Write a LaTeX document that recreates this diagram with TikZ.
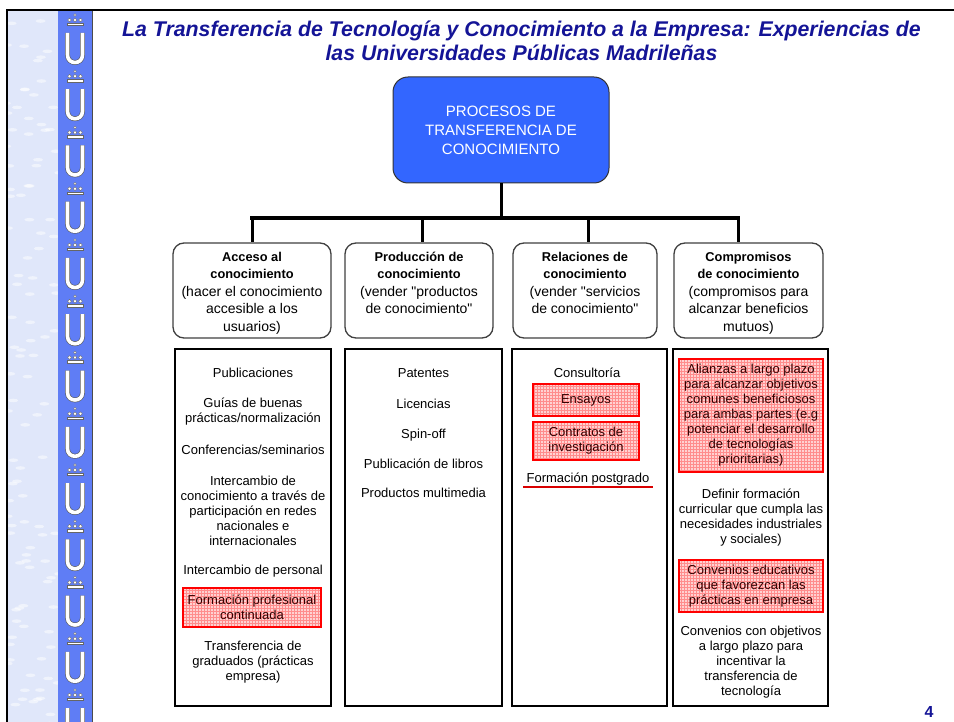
\documentclass[tikz,border=0pt]{standalone}
\usepackage{fontspec}
\setmainfont{Liberation Sans}[Ligatures=TeXOff]
\usetikzlibrary{positioning}
\usetikzlibrary{patterns}
\definecolor{navytitle}{RGB}{20,20,150}
\definecolor{procblue}{RGB}{51,102,255}
\definecolor{stripblue}{RGB}{95,125,245}
\definecolor{marble}{RGB}{224,231,250}
\newcommand{\hdbold}[1]{{\fontsize{12.8}{17.5}\selectfont\bfseries #1}}
\tikzset{
    titletext/.style = {align=center, text=navytitle, font=\fontsize{21.3}{24}\selectfont\bfseries\itshape},
    procnode/.style = {rounded corners=15pt, draw=black!80, line width=1pt, fill=procblue, text=white, align=center, minimum width=216pt, minimum height=106pt, font=\fontsize{15}{19}\selectfont},
    headnode/.style = {rounded corners=11pt, draw=black!75, line width=1.3pt, fill=white, minimum height=95pt},
    headtext/.style = {align=center, inner sep=0pt, font=\fontsize{14}{17.5}\selectfont},
    listbox/.style = {draw=black, line width=1.2pt, minimum height=357pt},
    listitem/.style = {align=center, inner sep=0pt, font=\fontsize{13}{15}\selectfont},
    listred/.style = {listitem, draw=red, line width=1.2pt, preaction={fill=red!18}, pattern=grid, pattern color=red!45, text=black!80!red},
    edgen/.style = {-, line width=3pt, black},
    edgebar/.style = {-, line width=3.5pt, black, line cap=rect},
    redline/.style = {-, line width=1.8pt, red!85!black},
    logou/.style = {double=white, double distance=3.6pt, draw=black!65, line width=0.6pt},
    logodot/.style = {fill=white, draw=black!60, line width=0.4pt}
}

\begin{document}
\begin{tikzpicture}[x=1pt,y=-1pt]
\useasboundingbox (0,0) rectangle (954,722);
% side strip
\fill[marble] (8,11) rectangle (58,722);
\begin{scope}
\clip (8,11) rectangle (58,722);
\pgfmathsetseed{7}
\foreach \i in {1,...,110} {
  \pgfmathsetmacro\mx{6+54*rnd}
  \pgfmathsetmacro\my{10+715*rnd}
  \fill[white, opacity=0.5] (\mx,\my) ellipse (5pt and 1.8pt);
}
\end{scope}
\fill[stripblue] (58,11) rectangle (92,722);
\draw[line width=1pt, black!70] (92,11) -- (92,722);
\foreach \k in {0,...,12} {
  \pgfmathsetmacro\cy{20+56.25*\k}
  \fill[logodot] (75,\cy-5) circle (1.4pt);
  \fill[logodot] (69.5,\cy) circle (1.8pt);
  \fill[logodot] (75,\cy) circle (1.8pt);
  \fill[logodot] (80.5,\cy) circle (1.8pt);
  \filldraw[logodot] (67,\cy+3) rectangle (83,\cy+5.5);
  \draw[logou] (67.5,\cy+13) -- (67.5,\cy+35) .. controls (67.5,\cy+45) and (82.5,\cy+45) .. (82.5,\cy+35) -- (82.5,\cy+13);
}
\draw[line width=2.5pt] (7,722) -- (7,10) -- (954,10);
%
\node[titletext] (title) at (521.5,41) {La Transferencia de Tecnología y Conocimiento a la Empresa: Experiencias de\\las Universidades Públicas Madrileñas};
\node[procnode] (proc) at (501,130) {PROCESOS DE\\TRANSFERENCIA DE\\CONOCIMIENTO};
%
\node[headnode, minimum width=158pt] (h1) at (252,290.5) {};
\node[headnode, minimum width=148pt] (h2) at (419,290.5) {};
\node[headnode, minimum width=144pt] (h3) at (585,290.5) {};
\node[headnode, minimum width=149pt] (h4) at (748.5,290.5) {};
\node[headtext, below=9.5pt of h1.north] (h1t) {\hdbold{Acceso al}\\\hdbold{conocimiento}\\(hacer el conocimiento\\accesible a los\\usuarios)};
\node[headtext, below=9.5pt of h2.north] (h2t) {\hdbold{Producción de}\\\hdbold{conocimiento}\\(vender "productos\\de conocimiento"};
\node[headtext, below=9.5pt of h3.north] (h3t) {\hdbold{Relaciones de}\\\hdbold{conocimiento}\\(vender "servicios\\de conocimiento"};
\node[headtext, below=9.5pt of h4.north] (h4t) {\hdbold{Compromisos}\\\hdbold{de conocimiento}\\(compromisos para\\alcanzar beneficios\\mutuos)};
%
\coordinate (bar) at (501,218);
\coordinate (d1) at (252,218);
\coordinate (d2) at (422,218);
\coordinate (d3) at (588,218);
\coordinate (d4) at (738,218);
\draw[edgen] (proc.south) -- (bar);
\draw[edgebar] (d1) -- (d4);
\draw[edgen] (d1) -- (d1 |- h1.north);
\draw[edgen] (d2) -- (d2 |- h2.north);
\draw[edgen] (d3) -- (d3 |- h3.north);
\draw[edgen] (d4) -- (d4 |- h4.north);
%
\node[listbox, minimum width=156pt] (l1) at (253,527.5) {};
\node[listbox, minimum width=157pt] (l2) at (423.5,527.5) {};
\node[listbox, minimum width=155pt] (l3) at (589.5,527.5) {};
\node[listbox, minimum width=155pt] (l4) at (750.5,527.5) {};
%
\node[listitem] (pub) at (253,373) {Publicaciones};
\node[listitem] (guia) at (253,412) {Guías de buenas\\prácticas/normalización};
\node[listitem] (conf) at (253,450) {Conferencias/seminarios};
\node[listitem] (interc) at (253,510.5) {Intercambio de\\conocimiento a través de\\participación en redes\\nacionales e\\internacionales};
\node[listitem] (pers) at (253,571) {Intercambio de personal};
\node[listred, minimum width=138pt, minimum height=39pt] (fprof) at (252,607.5) {Formación profesional\\continuada};
\node[listitem] (grad) at (253,662) {Transferencia de\\graduados (prácticas\\empresa)};
%
\node[listitem] (pat) at (423.5,373) {Patentes};
\node[listitem] (lic) at (423.5,404) {Licencias};
\node[listitem] (spin) at (423.5,435) {Spin-off};
\node[listitem] (libros) at (423.5,464) {Publicación de libros};
\node[listitem] (multi) at (423.5,493) {Productos multimedia};
%
\node[listitem] (consul) at (587,373) {Consultoría};
\node[listred, minimum width=106pt, minimum height=32pt] (ensa) at (586,400) {Ensayos};
\node[listred, minimum width=106pt, minimum height=38pt] (contr) at (586,441) {Contratos de\\investigación};
\node[listitem, inner xsep=3pt, inner ysep=1.5pt] (posg) at (588,479) {Formación postgrado};
\draw[redline] (posg.south west) -- (posg.south east);
%
\node[listred, minimum width=144pt, minimum height=113pt] (alian) at (751,415.5) {Alianzas a largo plazo\\para alcanzar objetivos\\comunes beneficiosos\\para ambas partes (e.g\\potenciar el desarrollo\\de tecnologías\\prioritarias)};
\node[listitem] (defin) at (751,517.5) {Definir formación\\curricular que cumpla las\\necesidades industriales\\y sociales)};
\node[listred, minimum width=144pt, minimum height=52pt] (conved) at (751,586) {Convenios educativos\\que favorezcan las\\prácticas en empresa};
\node[listitem] (convob) at (751,662) {Convenios con objetivos\\a largo plazo para\\incentivar la\\transferencia de\\tecnología};
%
\node[text=navytitle, font=\fontsize{16}{16}\selectfont\bfseries] (pagenum) at (929,712) {4};
\end{tikzpicture}
\end{document}
